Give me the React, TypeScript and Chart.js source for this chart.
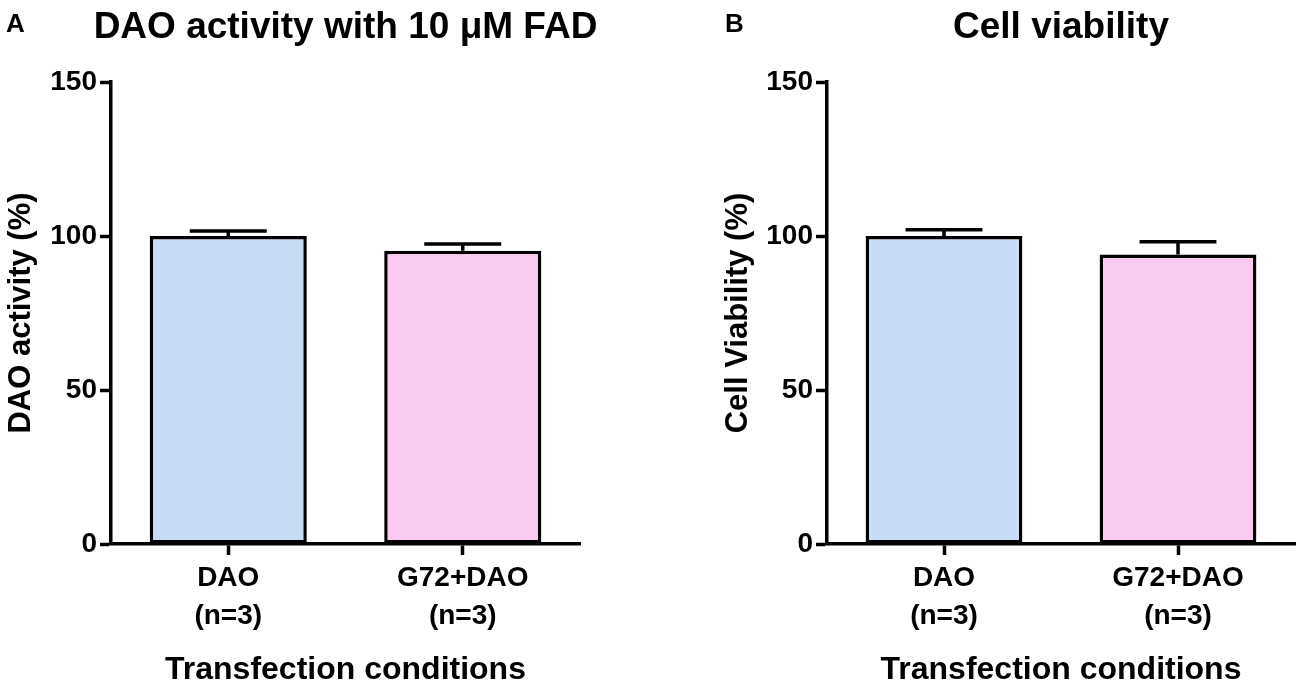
import React, { useEffect, useRef } from 'react';
import Chart from 'chart.js/auto';

const categories = [
  ['DAO', '(n=3)'],
  ['G72+DAO', '(n=3)'],
];
const activityMeans = [100, 95.2];
const activityErrors = [1.6, 2.2];
const viabilityMeans = [100, 94.0];
const viabilityErrors = [2.0, 4.1];
const yMin = 0;
const yMax = 150;
const yStep = 50;

const barColors = ['#C9DCF6', '#F9CCEF'];
const FONT = "'Liberation Sans', Arial, sans-serif";

// upward-only error bars, GraphPad style
const errorBarPlugin = {
  id: 'errorBars',
  afterDatasetsDraw(chart: any, _args: any, opts: any) {
    const { ctx } = chart;
    const yScale = chart.scales.y;
    const meta = chart.getDatasetMeta(0);
    const values = chart.data.datasets[0].data as number[];
    const errors: number[] = opts.errors || [];
    ctx.save();
    ctx.strokeStyle = '#000';
    ctx.lineWidth = 3.5;
    meta.data.forEach((bar: any, i: number) => {
      const yBar = yScale.getPixelForValue(values[i]);
      const yTop = yScale.getPixelForValue(values[i] + errors[i]);
      const half = bar.width * 0.245;
      ctx.beginPath();
      ctx.moveTo(bar.x, yBar);
      ctx.lineTo(bar.x, yTop);
      ctx.moveTo(bar.x - half, yTop);
      ctx.lineTo(bar.x + half, yTop);
      ctx.stroke();
    });
    ctx.restore();
  },
};

// panel letter + title centred over the plot area
const headingPlugin = {
  id: 'heading',
  afterDraw(chart: any, _args: any, opts: any) {
    const { ctx, chartArea } = chart;
    ctx.save();
    ctx.fillStyle = '#000';
    ctx.textBaseline = 'alphabetic';
    ctx.font = `bold 26px ${FONT}`;
    ctx.textAlign = 'left';
    ctx.fillText(opts.letter, opts.letterX, 32);
    ctx.font = `bold 37px ${FONT}`;
    ctx.textAlign = 'center';
    ctx.fillText(opts.title, (chartArea.left + chartArea.right) / 2, 38);
    ctx.restore();
  },
};

interface PanelProps {
  letter: string;
  letterX: number;
  title: string;
  yLabel: string;
  values: number[];
  errors: number[];
  padLeft: number;
  padRight: number;
  yWidth: number;
}

const Panel: React.FC<PanelProps> = ({ letter, letterX, title, yLabel, values, errors, padLeft, padRight, yWidth }) => {
  const canvasRef = useRef<HTMLCanvasElement>(null);
  const chartRef = useRef<Chart | null>(null);

  useEffect(() => {
    if (!canvasRef.current) return;
    if (chartRef.current) chartRef.current.destroy();

    const axisGrid = {
      display: true,
      drawOnChartArea: false,
      drawTicks: true,
      tickLength: 11,
      tickWidth: 3.5,
      tickColor: '#000',
    };
    const axisBorder = { display: true, color: '#000', width: 3.5 };

    chartRef.current = new Chart(canvasRef.current, {
      type: 'bar',
      data: {
        labels: categories,
        datasets: [
          {
            data: values,
            backgroundColor: barColors,
            borderColor: '#000',
            borderWidth: 3.5,
            borderSkipped: false,
            barPercentage: 0.67,
            categoryPercentage: 1,
          },
        ],
      },
      options: {
        animation: false,
        responsive: true,
        maintainAspectRatio: false,
        layout: { padding: { left: padLeft, right: padRight, top: 82, bottom: 0 } },
        plugins: {
          legend: { display: false },
          title: { display: false },
          tooltip: { enabled: false },
          errorBars: { errors },
          heading: { letter, letterX, title },
        } as any,
        scales: {
          x: {
            grid: { ...axisGrid, offset: false },
            border: axisBorder,
            ticks: {
              color: '#000',
              padding: 4,
              font: { family: FONT, size: 28, weight: 'bold', lineHeight: 1.36 },
            },
            title: {
              display: true,
              text: 'Transfection conditions',
              color: '#000',
              padding: { top: 0, bottom: 1 },
              font: { family: FONT, size: 32, weight: 'bold', lineHeight: 1.2 },
            },
            afterFit: (scale: any) => {
              scale.height = 146;
            },
          },
          y: {
            min: yMin,
            max: yMax,
            grid: axisGrid,
            border: axisBorder,
            ticks: {
              stepSize: yStep,
              color: '#000',
              padding: 3,
              font: { family: FONT, size: 28, weight: 'bold' },
            },
            title: {
              display: true,
              text: yLabel,
              color: '#000',
              padding: { top: 3, bottom: 0 },
              font: { family: FONT, size: 31, weight: 'bold', lineHeight: 1.2 },
            },
            afterFit: (scale: any) => {
              scale.width = yWidth;
            },
          },
        },
      },
      plugins: [errorBarPlugin, headingPlugin],
    });

    return () => {
      if (chartRef.current) {
        chartRef.current.destroy();
        chartRef.current = null;
      }
    };
  }, [letter, letterX, title, yLabel, values, errors, padLeft, padRight, yWidth]);

  return (
    <div style={{ position: 'relative', width: 650, height: 690 }}>
      <canvas ref={canvasRef} />
    </div>
  );
};

const App: React.FC = () => {
  return (
    <div style={{ position: 'fixed', left: 0, top: 0, width: 1300, height: 690, display: 'flex', background: '#fff' }}>
      <Panel
        letter="A"
        letterX={6}
        title="DAO activity with 10 μM FAD"
        yLabel="DAO activity (%)"
        values={activityMeans}
        errors={activityErrors}
        padLeft={0}
        padRight={70}
        yWidth={111}
      />
      <Panel
        letter="B"
        letterX={75}
        title="Cell viability"
        yLabel="Cell Viability (%)"
        values={viabilityMeans}
        errors={viabilityErrors}
        padLeft={67}
        padRight={5}
        yWidth={110}
      />
    </div>
  );
};

export default App;
